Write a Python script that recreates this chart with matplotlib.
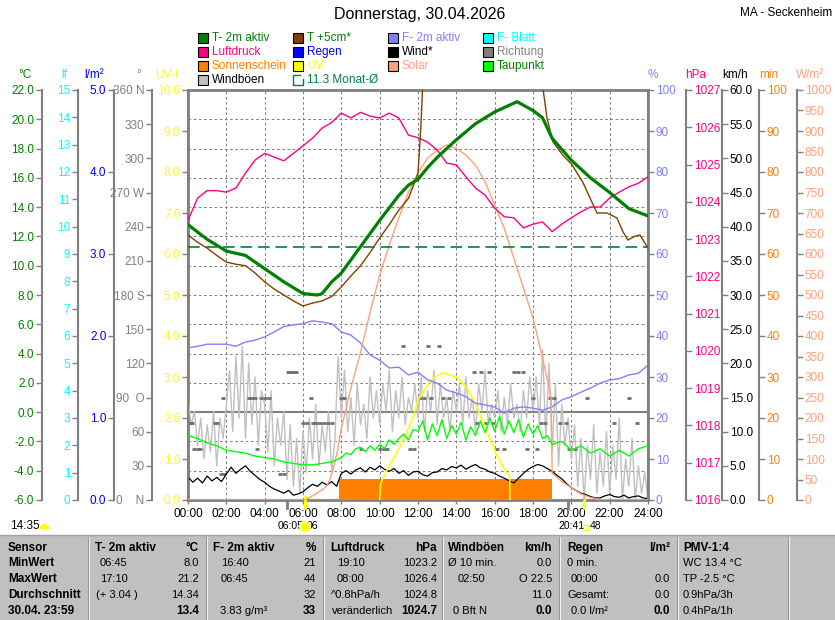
import matplotlib
matplotlib.use("Agg")
import matplotlib.pyplot as plt
import numpy as np
from matplotlib.patches import Rectangle, Ellipse, Polygon
from matplotlib.lines import Line2D
from matplotlib.transforms import blended_transform_factory

plt.rcParams['font.family'] = ['Liberation Sans', 'DejaVu Sans']

# ---------------- data ----------------
hour_ticks = [0, 2, 4, 6, 8, 10, 12, 14, 16, 18, 20, 22, 24]
hour_labels = ["00:00", "02:00", "04:00", "06:00", "08:00", "10:00", "12:00",
               "14:00", "16:00", "18:00", "20:00", "22:00", "24:00"]

# T- 2m aktiv (°C)
temp_t = [0, 1, 2, 3, 4, 5, 6, 6.75, 7, 7.5, 8, 9, 10, 11, 11.5, 12, 12.5, 13, 14, 15,
          16, 17, 17.17, 18, 18.5, 19, 20, 21, 22, 23, 24]
temp_v = [12.8, 11.8, 11.0, 10.7, 9.8, 8.9, 8.1, 8.0, 8.1, 8.9, 9.5, 11.3, 13.1, 14.8, 15.5,
          15.9, 16.7, 17.4, 18.6, 19.7, 20.5, 21.1, 21.2, 20.6, 20.1, 18.7, 17.2, 16.0, 15.0,
          13.9, 13.4]

# T +5cm* (°C)
t5_t = [0, 0.5, 1, 1.5, 2, 2.5, 3, 3.5, 4, 4.5, 5, 5.5, 6, 6.5, 7, 7.5, 8, 8.5, 9, 9.5,
        10, 10.5, 11, 11.5, 12, 12.15, 12.3, 13, 14, 15, 16, 17, 18, 18.5, 18.73, 19.04,
        19.56, 20.03, 20.6, 21.07, 21.34, 21.86, 22.38, 22.7, 22.95, 23.3, 23.58, 24]
t5_v = [12.1, 11.6, 11.2, 10.7, 10.25, 10.1, 10.0, 9.5, 8.9, 8.4, 8.0, 7.6, 7.25, 7.45,
        7.6, 7.9, 8.55, 9.3, 10.0, 10.9, 11.9, 12.8, 13.8, 14.6, 16.3, 19.5, 24.0, 30.0,
        34.0, 35.0, 34.0, 31.0, 27.0, 22.3, 20.1, 18.45, 17.55, 16.9, 15.7, 14.35, 13.6,
        13.6, 13.26, 12.3, 11.75, 12.0, 12.1, 11.2]

# Taupunkt (°C)
dew_t = [0, 0.5, 1, 1.5, 2, 2.5, 3, 3.5, 4, 4.5, 5, 5.5, 6, 6.5, 7, 7.5, 8,
         8.25, 8.5, 8.75, 9, 9.25, 9.5, 9.75, 10, 10.25, 10.5, 10.75, 11, 11.25, 11.5, 11.75, 12,
         12.25, 12.5, 12.75, 13, 13.25, 13.5, 13.75, 14, 14.25, 14.5, 14.75, 15, 15.25, 15.5,
         15.75, 16, 16.25, 16.5, 16.75, 17, 17.25, 17.5, 17.75, 18, 18.25, 18.5, 18.75, 19,
         19.5, 20, 20.5, 21, 21.5, 22, 22.5, 23, 23.5, 24]
dew_v = [-1.6, -1.8, -2.1, -2.3, -2.6, -2.7, -2.8, -3.0, -3.1, -3.2, -3.4, -3.5, -3.6, -3.6,
         -3.5, -3.4, -3.1,
         -2.8, -2.9, -2.5, -2.4, -2.7, -2.3, -2.6, -2.2, -2.5, -1.9, -2.2, -1.8, -1.5, -1.9,
         -1.2, -1.3,
         -0.6, -1.9, -0.8, -1.6, -0.5, -1.8, -0.9, -1.5, -0.7, -1.9, -1.0, -1.6, -0.6, -1.4,
         -0.4, -1.3, -0.3, -1.5, -0.6, -1.4, -0.5, -1.7, -0.8, -1.5, -0.9, -1.8, -1.6, -2.2,
         -2.0, -2.6, -2.3, -2.8, -2.5, -3.0, -2.6, -3.0, -2.5, -2.3]

month_avg = 11.3

# Luftdruck (hPa), every 30 min
pres_v = [1023.5, 1024.1, 1024.3, 1024.3, 1024.26, 1024.37, 1024.77, 1025.12, 1025.3, 1025.2,
          1025.1, 1025.3, 1025.5, 1025.71, 1025.98, 1026.13, 1026.38, 1026.25, 1026.4, 1026.3,
          1026.25, 1026.38, 1026.25, 1025.79, 1025.72, 1025.6, 1025.39, 1025.04, 1024.99,
          1024.67, 1024.37, 1024.18, 1023.83, 1023.6, 1023.57, 1023.3, 1023.4, 1023.46, 1023.2,
          1023.4, 1023.57, 1023.73, 1023.86, 1023.86, 1024.1, 1024.26, 1024.4, 1024.5, 1024.67]

# F- 2m aktiv (%), every 30 min
hum_v = [37.1, 37.5, 38, 38, 38, 37.5, 38.5, 39, 39.8, 41, 42.3, 42.7, 43, 43.7, 43.4, 43,
         41, 40.2, 38.3, 35.4, 34.1, 32.2, 32.4, 30.5, 31.2, 29.3, 28.5, 26.8, 26.1, 25.2,
         23.6, 23.2, 22.7, 21.2, 22.4, 22.7, 22.4, 21.9, 22.7, 24.4, 25.2, 26.3, 27.3, 28.5,
         29.3, 29.6, 30.5, 30.9, 32.9]

# Wind* (km/h), every 15 min
wind_v = [3.4, 2.6, 3.2, 2.5,   3.5, 2.8, 3.3, 2.7,   3.8, 4.8, 3.9, 4.5,   5.0, 4.2, 3.6, 3.0,
          2.6, 2.0, 1.6, 1.3,   1.0, 1.4, 0.7, 0.9,   1.2, 1.8, 2.3, 2.0,   2.6, 2.2, 2.7, 2.0,
          3.9, 4.3, 3.8, 4.4,   4.7, 4.1, 4.8, 4.4,   5.0, 4.5, 4.2, 4.6,   3.9, 4.3, 3.6, 4.1,
          4.2, 3.7, 3.5, 4.0,   4.1, 4.6, 4.4, 4.9,   4.7, 5.1, 4.5, 4.9,   5.2, 4.7, 4.5, 4.1,
          3.9, 3.5, 3.2, 2.8,   2.5, 3.2, 3.9, 4.5,   4.9, 5.2, 5.0, 4.6,   4.2, 3.6, 3.1, 2.4,
          1.8, 1.4, 1.0, 0.8,   0.5, 0.3, 0.3, 0.6,   0.8, 0.5, 0.4, 0.7,   0.3, 0.5, 0.6, 0.3,
          0.2]

# Windböen (km/h), every 10 min
gust_v = [15, 11, 13, 8, 12, 6, 11, 7, 13, 5, 12, 9,
          14, 19, 10, 21, 12, 22.5, 9, 20, 11, 18, 8, 16,
          14, 7, 16, 5, 12, 8, 13, 3, 11, 2, 9, 1,
          10, 4, 12, 6, 14, 5, 11, 7, 13, 4, 9, 21,
          12, 19, 10, 15, 8, 17, 11, 14, 9, 18, 12, 16,
          11, 17, 13, 19, 10, 16, 12, 18, 11, 15, 13, 17,
          12, 18, 10, 16, 13, 19, 11, 17, 12, 15, 10, 16,
          13, 17, 11, 18, 12, 15, 10, 17, 13, 19, 11, 14,
          12, 16, 10, 15, 11, 17, 12, 14, 10, 16, 12, 18,
          13, 18, 11, 22, 9, 20, 7, 17, 5, 14, 8, 12,
          6, 11, 2, 9, 0, 8, 3, 11, 1, 7, 2, 10,
          1, 8, 3, 12, 0, 6, 2, 9, 0, 5, 1, 4, 0]

# Richtung (°)
dir_t = [0.1, 0.2, 0.3, 0.5, 0.6, 1.4, 1.5, 1.7, 1.8, 1.9, 3.2, 3.35, 3.5, 3.6, 3.8, 4.0,
         4.2, 4.8, 5.0, 5.2, 5.35, 5.5, 5.65, 6.0, 6.2, 6.4, 6.5, 6.7, 6.9, 7.1, 7.3, 7.5,
         8.0, 8.15, 9.0, 10.0, 10.2, 10.4, 11.2, 11.6, 11.8, 12.1, 12.3, 12.5, 12.7, 13.1,
         13.3, 13.6, 14.9, 15.1, 15.3, 15.5, 15.7, 15.9, 16.1, 16.5, 17.0, 17.2, 17.5, 17.7,
         18.0, 18.2, 18.4, 18.6, 18.9, 19.1, 19.4, 19.7, 19.9, 20.2, 20.8, 22.2, 23.0, 23.4]
dir_v = [67.5, 67.5, 45, 45, 45, 67.5, 67.5, 22.5, 90, 22.5, 90, 90, 90, 45, 90, 90,
         90, 22.5, 22.5, 112.5, 112.5, 112.5, 112.5, 67.5, 67.5, 90, 67.5, 67.5, 67.5, 67.5,
         67.5, 67.5, 90, 90, 45, 45, 45, 45, 135, 45, 45, 90, 90, 135, 90, 135,
         90, 90, 112.5, 67.5, 112.5, 67.5, 112.5, 67.5, 45, 45, 112.5, 112.5, 112.5, 45,
         90, 45, 67.5, 67.5, 90, 90, 67.5, 67.5, 45, 45, 90, 67.5, 90, 67.5]

# Solar (W/m²)
solar_t = [0, 6.1, 6.5, 7.0, 7.25, 7.4, 7.5, 7.6, 7.8, 8.0, 8.5, 9, 9.5, 10, 10.5, 11, 11.5,
           12, 12.5, 13, 13.5, 14, 14.5, 15, 15.5, 16, 16.5, 17, 17.5, 18, 18.5, 18.95, 19.0,
           19.5, 20, 20.5, 21, 21.5, 22, 24]
solar_v = [0, 0, 10, 25, 35, 50, 65, 80, 120, 175, 273, 360, 458, 548, 622, 688, 751, 798,
           834, 853, 866, 858, 841, 817, 776, 720, 663, 590, 517, 444, 346, 250, 65, 45, 30,
           15, 6, 1, 0, 0]

# UV-Index
uv_t = [10.0, 10.05, 10.38, 11.06, 11.74, 12.0, 12.1, 12.6, 12.9, 13.3, 14.0, 14.55, 15.08,
        15.6, 16.1, 16.6, 16.78, 16.8]
uv_v = [0, 0.4, 0.73, 1.3, 2.0, 2.44, 2.5, 2.87, 3.0, 3.1, 3.0, 2.73, 2.27, 1.66, 1.1, 0.68,
        0.6, 0]

# Sonnenschein (min per interval)
sun_t = [0, 7.9, 19.0, 24]
sun_v = [0, 5, 0, 0]

# sunrise / sunset
twilight_start, sunrise, sunset, twilight_end = 5.15, 6 + 5 / 60, 20 + 41 / 60, 19.83

# legend
legend_labels = [["T- 2m aktiv", "T +5cm*", "F- 2m aktiv", "F- Blatt"],
                 ["Luftdruck", "Regen", "Wind*", "Richtung"],
                 ["Sonnenschein", "UV", "Solar", "Taupunkt"],
                 ["Windböen", "11.3 Monat-Ø", None, None]]
legend_fill = [["#008000", "#804000", "#8080FF", "#00FFFF"],
               ["#FF0080", "#0000FF", "#000000", "#808080"],
               ["#FF8000", "#FFFF00", "#FFA07A", "#00FF00"],
               ["#C0C0C0", None, None, None]]
legend_text = [["#008000", "#008000", "#8080FF", "#00FFFF"],
               ["#FF0080", "#0000FF", "#000000", "#808080"],
               ["#FF8000", "#FFFF00", "#FFA07A", "#008000"],
               ["#000000", "#008040", None, None]]

# statistics table
tbl_col0 = ["Sensor", "MinWert", "MaxWert", "Durchschnitt", "30.04. 23:59"]
tbl_left = [["T- 2m aktiv", "06:45", "17:10", "(+ 3.04 )", ""],
            ["F- 2m aktiv", "16:40", "06:45", "", "3.83 g/m³"],
            ["Luftdruck", "19:10", "08:00", "^0.8hPa/h", "veränderlich"],
            ["Windböen", "Ø 10 min.", "02:50", "", "0 Bft N"],
            ["Regen", "0 min.", "00:00", "Gesamt:", "0.0 l/m²"],
            ["PMV-1:4", "WC 13.4 °C", "TP -2.5 °C", "0.9hPa/3h", "0.4hPa/1h"]]
tbl_right = [["°C", "8.0", "21.2", "14.34", "13.4"],
             ["%", "21", "44", "32", "33"],
             ["hPa", "1023.2", "1026.4", "1024.8", "1024.7"],
             ["km/h", "0.0", "O 22.5", "11.0", "0.0"],
             ["l/m²", "", "0.0", "0.0", "0.0"],
             ["", "", "", "", ""]]

# ---------------- figure ----------------
W, H = 835, 620
fig = plt.figure(figsize=(W / 100, H / 100), dpi=100)
fig.patch.set_facecolor("white")


def fx(x):
    return x / W


def fy(y):
    return 1 - y / H


GRAY = "#808080"
L, R, T, B = 188, 648, 90, 500
ax = fig.add_axes([fx(L), fy(B), (R - L) / W, (B - T) / H])
ax.set_xlim(0, 24)
ax.set_ylim(-6, 22)
for s in ax.spines.values():
    s.set_color(GRAY)
    s.set_linewidth(2)
ax.set_xticks(hour_ticks)
ax.set_xticklabels(hour_labels)
ax.tick_params(axis="x", direction="out", length=3, width=1, color=GRAY, labelsize=8.5, pad=2.5)

# grid
for v in range(-4, 22, 2):
    if v == 0:
        ax.axhline(v, color=GRAY, lw=1.5, zorder=1)
    else:
        ax.axhline(v, color=GRAY, lw=0.75, dashes=(2.5, 2.5), zorder=1)
for h in hour_ticks[1:-1]:
    ax.axvline(h, color=GRAY, lw=0.75, dashes=(2.5, 2.5), zorder=1)


def make_axis(lim, side=None, xpos=None, ticks=None, labels=None, color="k"):
    a = ax.twinx()
    a.set_ylim(*lim)
    for s in a.spines.values():
        s.set_visible(False)
    if side is None:
        a.set_yticks([])
        return a
    frac = (xpos - L) / (R - L)
    sp = a.spines[side]
    sp.set_visible(True)
    sp.set_position(("axes", frac))
    sp.set_color(GRAY)
    sp.set_linewidth(1.5)
    if side == "left":
        a.yaxis.tick_left()
    else:
        a.yaxis.tick_right()
    a.set_yticks(ticks)
    a.set_yticklabels(labels)
    a.tick_params(axis="y", direction="out", length=4.5, width=1, color=GRAY,
                  labelcolor=color, labelsize=8.5, pad=1)
    return a


# gusts (bottom)
ax_gust = make_axis((0, 60))
ax_gust.plot(np.arange(len(gust_v)) / 6, gust_v, color="#C0C0C0", lw=1)

# direction
dir_ticks = list(range(0, 361, 30))
dir_labels = ["0    N", "30", "60", "90  O", "120", "150", "180 S", "210", "240", "270 W",
              "300", "330", "360 N"]
ax_dir = make_axis((0, 360), "left", 152, dir_ticks, dir_labels, GRAY)
ax_dir.plot(dir_t, dir_v, ls="none", marker="_", ms=3, mew=2, color="#707070")

# sunshine
ax_min = make_axis((0, 100), "right", 759, list(range(0, 101, 10)),
                   [str(v) for v in range(0, 101, 10)], "#FF8000")
ax_min.fill_between(sun_t, 0, sun_v, step="post", color="#FF8000", lw=0)
ax_min.plot([0, 24], [0.3, 0.3], color="#FF8000", lw=1, ls=":")

# wind
ax_wind = make_axis((0, 60), "right", 722, list(range(0, 61, 5)),
                    ["%.1f" % v for v in range(0, 61, 5)], "#000000")
ax_wind.plot(np.arange(len(wind_v)) * 0.25, wind_v, color="#000000", lw=0.9)

# UV
ax_uv = make_axis((0, 10), "left", 188, list(range(0, 11)),
                  ["%.1f" % v for v in range(0, 11)], "#FFFF00")
ax_uv.plot(uv_t, uv_v, color="#FFFF00", lw=1.2)

# humidity
ax_hum = make_axis((0, 100), "right", 648, list(range(0, 101, 10)),
                   [str(v) for v in range(0, 101, 10)], "#8080FF")
ax_hum.plot(np.arange(len(hum_v)) * 0.5, hum_v, color="#8080FF", lw=1)

# solar
ax_sol = make_axis((0, 1000), "right", 797, list(range(0, 1001, 50)),
                   [str(v) for v in range(0, 1001, 50)], "#FFA07A")
ax_sol.plot(solar_t, solar_v, color="#FFA07A", lw=1)

# pressure
ax_p = make_axis((1016, 1027), "right", 686, list(range(1016, 1028)),
                 [str(v) for v in range(1016, 1028)], "#FF0080")
ax_p.plot(np.arange(len(pres_v)) * 0.5, pres_v, color="#FF0080", lw=1)

# temperatures
ax_T = make_axis((-6, 22), "left", 42, list(range(-6, 23, 2)),
                 ["%.1f" % v for v in range(-6, 23, 2)], "#008000")
ax_T.axhline(month_avg, color="#008040", lw=1.2, dashes=(7, 3.5))
ax_T.plot(dew_t, dew_v, color="#00FF00", lw=1)
ax_T.plot(t5_t, t5_v, color="#804000", lw=1)
ax_T.plot(temp_t, temp_v, color="#008000", lw=2.3)

# extra scales
make_axis((0, 15), "left", 78, list(range(0, 16)), [str(v) for v in range(0, 16)], "#00FFFF")
make_axis((0, 5), "left", 114, list(range(0, 6)), ["%.1f" % v for v in range(0, 6)], "#0000FF")

ax.set_yticks([])

# unit labels
units = [("°C", 31, "#008000", "right"), ("lf", 67, "#00FFFF", "right"),
         ("l/m²", 104, "#0000FF", "right"), ("°", 141, GRAY, "right"),
         ("UV-I", 178, "#FFFF00", "right"), ("%", 648, "#8080FF", "left"),
         ("hPa", 685, "#FF0080", "left"), ("km/h", 722, "#000000", "left"),
         ("min", 759, "#FF8000", "left"), ("W/m²", 796, "#FFA07A", "left")]
for txt, x, c, ha in units:
    fig.text(fx(x), fy(75), txt, color=c, ha=ha, va="center", fontsize=8.5)

# title
fig.text(fx(420), fy(15), "Donnerstag, 30.04.2026", ha="center", va="center", fontsize=11.5)
fig.text(fx(832), fy(13), "MA - Seckenheim", ha="right", va="center", fontsize=8.5)

# legend
col_x = [198, 293, 388, 483]
row_y = [38, 52, 66, 80]
for r in range(4):
    for c in range(4):
        lab = legend_labels[r][c]
        if lab is None:
            continue
        x, y = col_x[c], row_y[r]
        fill = legend_fill[r][c]
        if fill is not None:
            fig.add_artist(Rectangle((fx(x), fy(y + 5)), 10 / W, 10 / H, transform=fig.transFigure,
                                     facecolor=fill, edgecolor="black", lw=0.8))
        else:
            fig.add_artist(Line2D([fx(x + 7), fx(x), fx(x), fx(x + 10), fx(x + 10)],
                                  [fy(y - 5), fy(y - 5), fy(y + 5), fy(y + 5), fy(y - 1)],
                                  transform=fig.transFigure, color="#008040", lw=1))
        fig.text(fx(x + 14), fy(y), lab, color=legend_text[r][c], ha="left", va="center",
                 fontsize=8.5)

# sunrise / sunset marks
trans = blended_transform_factory(ax.transData, ax.transAxes)
for tt, col, y0 in [(twilight_start, GRAY, 0.0), (sunrise, "#FFFF00", 0.008),
                    (twilight_end, GRAY, 0.0), (sunset, "#FFFF00", 0.008)]:
    ax.plot([tt, tt], [y0, -8 / 410], color=col, lw=2, transform=trans, clip_on=False, zorder=5)

fig.text(fx(278), fy(526), "06:05", ha="left", va="center", fontsize=7.5)
fig.text(fx(307), fy(526), "06", ha="left", va="center", fontsize=7.5)
fig.add_artist(Ellipse((fx(305), fy(527)), 12 / W, 12 / H, transform=fig.transFigure,
                       facecolor="#FFFF80", edgecolor="none", zorder=10))
fig.add_artist(Ellipse((fx(305), fy(527)), 8 / W, 8 / H, transform=fig.transFigure,
                       facecolor="#FFFF00", edgecolor="none", zorder=11))
fig.text(fx(558), fy(526), "20:41", ha="left", va="center", fontsize=7.5)
fig.add_artist(Rectangle((fx(583), fy(530)), 5 / W, 5 / H, transform=fig.transFigure,
                         facecolor="white", edgecolor="#FFFF00", lw=1))
fig.text(fx(590), fy(526), "48", ha="left", va="center", fontsize=7.5)
fig.text(fx(10), fy(526), "14:35", ha="left", va="center", fontsize=8.5)
ang = np.linspace(0, np.pi, 20)
fig.add_artist(Polygon(np.column_stack([fx(44.5 + 5 * np.cos(ang)), fy(529 - 5 * np.sin(ang))]),
                       closed=True, transform=fig.transFigure, facecolor="#FFFF00",
                       edgecolor="none"))

# table panel
fig.add_artist(Rectangle((0, 0), 1, fy(535), transform=fig.transFigure,
                         facecolor="#C0C0C0", edgecolor="none", zorder=0))
fig.add_artist(Line2D([0, 1], [fy(535), fy(535)], transform=fig.transFigure, color="#A0A0A0",
                      lw=1))
for xs in [88, 206, 323, 442, 559, 677, 788]:
    fig.add_artist(Line2D([fx(xs), fx(xs)], [fy(537), 0], transform=fig.transFigure,
                          color="#909090", lw=0.8))
    fig.add_artist(Line2D([fx(xs + 1.2), fx(xs + 1.2)], [fy(537), 0], transform=fig.transFigure,
                          color="#F0F0F0", lw=0.8))

rows_y = [548, 563, 579, 595, 611]
for i, t in enumerate(tbl_col0):
    fig.text(fx(8), fy(rows_y[i]), t, ha="left", va="center", fontsize=8.5, fontweight="bold")

col_hdr_x = [95, 213, 330, 448, 567, 683]
col_val_x = [[100, 100, 96, 0], [221, 221, 0, 220], [337, 337, 331, 332],
             [448, 458, 0, 453], [567, 571, 567, 571], [683, 683, 683, 683]]
col_right_x = [199, 316, 437, 552, 670, 0]
for c in range(6):
    for r in range(5):
        txt = tbl_left[c][r]
        if txt:
            if r == 0:
                fig.text(fx(col_hdr_x[c]), fy(rows_y[r]), txt, ha="left", va="center",
                         fontsize=8.5, fontweight="bold")
            else:
                fig.text(fx(col_val_x[c][r - 1]), fy(rows_y[r]), txt, ha="left", va="center",
                         fontsize=8)
        rt = tbl_right[c][r]
        if rt:
            bold = (r == 0 or r == 4)
            fig.text(fx(col_right_x[c]), fy(rows_y[r]), rt, ha="right", va="center",
                     fontsize=8.5 if bold else 8, fontweight="bold" if bold else "normal")

fig.savefig("out.png", dpi=100)
